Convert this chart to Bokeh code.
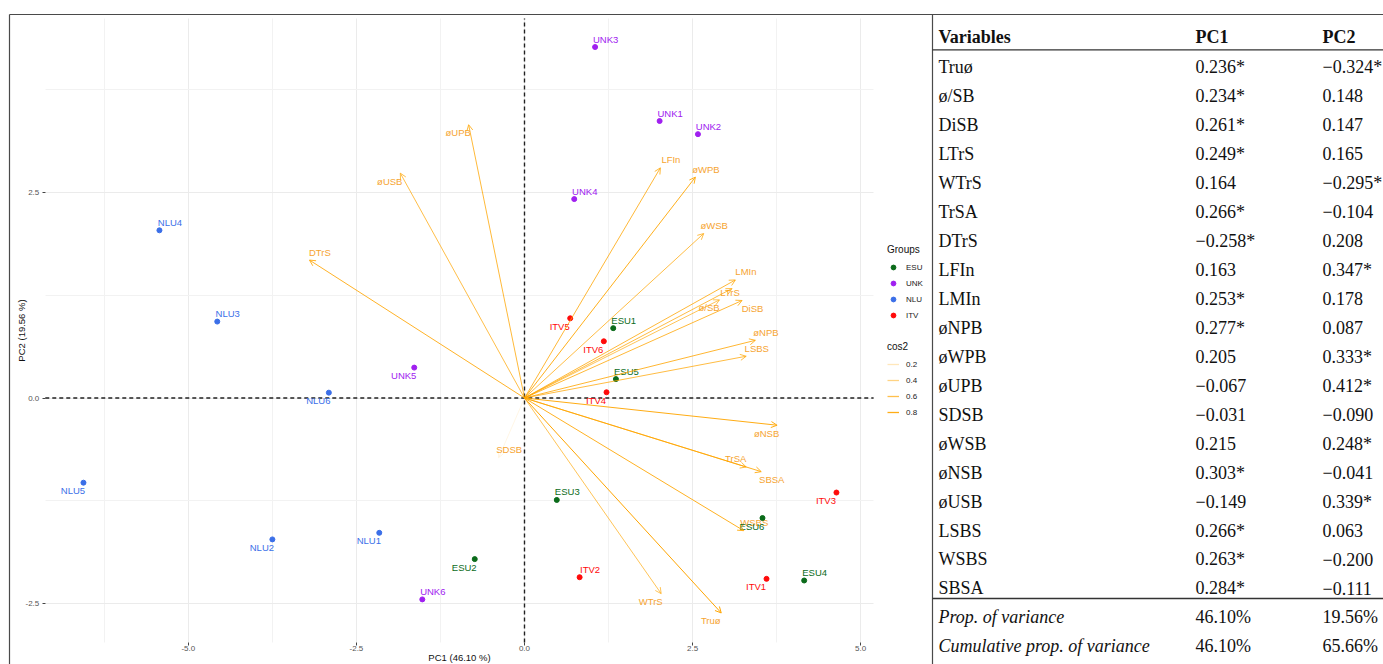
import numpy as np
from bokeh.plotting import figure
from bokeh.models import (ColumnDataSource, Range1d, Arrow, OpenHead, Legend, LegendItem,
                          FixedTicker, PrintfTickFormatter, LinearAxis, Grid)
from bokeh.embed import file_html
from bokeh.resources import INLINE
from bokeh.core.properties import value

# ---------------- data ----------------
ind_names = ["ESU1", "ESU2", "ESU3", "ESU4", "ESU5", "ESU6",
             "UNK1", "UNK2", "UNK3", "UNK4", "UNK5", "UNK6",
             "NLU1", "NLU2", "NLU3", "NLU4", "NLU5", "NLU6",
             "ITV1", "ITV2", "ITV3", "ITV4", "ITV5", "ITV6"]
ind_groups = ["ESU"] * 6 + ["UNK"] * 6 + ["NLU"] * 6 + ["ITV"] * 6
ind_pc1 = [1.32, -0.74, 0.48, 4.16, 1.36, 3.54,
           2.01, 2.58, 1.05, 0.74, -1.64, -1.52,
           -2.16, -3.75, -4.57, -5.43, -6.56, -2.91,
           3.60, 0.82, 4.64, 1.22, 0.68, 1.18]
ind_pc2 = [0.85, -1.96, -1.24, -2.22, 0.23, -1.46,
           3.37, 3.21, 4.27, 2.42, 0.37, -2.45,
           -1.64, -1.72, 0.93, 2.04, -1.03, 0.065,
           -2.20, -2.18, -1.15, 0.07, 0.97, 0.69]
# label placement: "ur" = above right, "dl" = below left
ind_label_pos = ["ur", "dl", "ur", "ur", "ur", "dl",
                 "ur", "ur", "ur", "ur", "dl", "ur",
                 "dl", "dl", "ur", "ur", "dl", "dl",
                 "dl", "ur", "dl", "dl", "dl", "dl"]

groups = ["ESU", "UNK", "NLU", "ITV"]
group_colors = {"ESU": "#0b6b1a", "UNK": "#a020f0", "NLU": "#3b6fe8", "ITV": "#ff0a0a"}

var_names = ["Truø", "ø/SB", "DiSB", "LTrS", "WTrS", "TrSA", "DTrS", "LFIn", "LMIn",
             "øNPB", "øWPB", "øUPB", "SDSB", "øWSB", "øNSB", "øUSB", "LSBS", "WSBS", "SBSA"]
var_pc1 = [0.236, 0.234, 0.261, 0.249, 0.164, 0.266, -0.258, 0.163, 0.253,
           0.277, 0.205, -0.067, -0.031, 0.215, 0.303, -0.149, 0.266, 0.263, 0.284]
var_pc2 = [-0.324, 0.148, 0.147, 0.165, -0.295, -0.104, 0.208, 0.347, 0.178,
           0.087, 0.333, 0.412, -0.090, 0.248, -0.041, 0.339, 0.063, -0.200, -0.111]
var_pc1_sig = [1, 1, 1, 1, 0, 1, 1, 0, 1, 1, 0, 0, 0, 0, 1, 0, 1, 1, 1]
var_pc2_sig = [1, 0, 0, 0, 1, 0, 0, 1, 0, 0, 1, 1, 0, 1, 0, 1, 0, 0, 0]
var_cos2 = [0.88, 0.56, 0.68, 0.64, 0.56, 0.66, 0.74, 0.68, 0.68,
            0.70, 0.78, 0.67, 0.04, 0.63, 0.81, 0.62, 0.64, 0.76, 0.75]
var_label_pos = ["dl", "dl", "dr", "c", "dl", "ul", "ur", "ur", "ur",
                 "ur", "ur", "dl", "ur", "ur", "dl", "dl", "ur", "ur", "dr"]
# biplot scaling of loadings (sdev x rescale factor) for PC1 / PC2
arrow_scale = (12.4, 8.07)

prop_var = ["46.10%", "19.56%"]
cum_var = ["46.10%", "65.66%"]
x_title = "PC1 (46.10 %)"
y_title = "PC2 (19.56 %)"
x_ticks = [-5.0, -2.5, 0.0, 2.5, 5.0]
x_minor = [-6.25, -3.75, -1.25, 1.25, 3.75]
y_ticks = [-2.5, 0.0, 2.5]
y_minor = [-1.25, 1.25, 3.75]
cos2_legend = [0.2, 0.4, 0.6, 0.8]

# ---------------- layout constants ----------------
W, H = 1383, 664
PX = (-7.128, 5.193)          # plotting panel limits (PC1)
PY = (-2.974, 4.617)          # plotting panel limits (PC2)
XR = (-7.794, 12.777)         # whole canvas in PC1 units
YR = (-3.242, 4.836)          # whole canvas in PC2 units
TXR = (-933, 450)             # table x units (px from table text origin)
TYR = (20.6207, -2.2759)      # table rows (row index, top to bottom)

VAR_COLOR = "#ffa500"
VAR_TEXT = "#f6a431"
SANS = "Liberation Sans"
SERIF = "Liberation Serif"
RULE = "#4a4a4a"

cmin, cmax = min(var_cos2), max(var_cos2)


def alpha_of(c):
    return 0.1 + 0.9 * (c - cmin) / (cmax - cmin)


OFFS = {"ur": (10.5, -8.0), "dl": (-10.5, 8.0), "ul": (-10.5, -8.5),
        "dr": (10.5, 7.5), "c": (-2.0, 3.5)}

p = figure(width=W, height=H, x_range=Range1d(*XR), y_range=Range1d(*YR),
           output_backend="svg", toolbar_location=None, min_border=0,
           outline_line_color=None, background_fill_color="white",
           x_axis_type=None, y_axis_type=None)
p.extra_x_ranges = {"tx": Range1d(*TXR)}
p.extra_y_ranges = {"ty": Range1d(*TYR)}

# ---------------- axes & grid ----------------
xt = FixedTicker(ticks=x_ticks, minor_ticks=x_minor)
yt = FixedTicker(ticks=y_ticks, minor_ticks=y_minor)
xax = LinearAxis(ticker=xt, fixed_location=PY[0], bounds=PX, axis_label=x_title)
yax = LinearAxis(ticker=yt, fixed_location=PX[0], bounds=PY, axis_label=y_title)
for ax in (xax, yax):
    ax.formatter = PrintfTickFormatter(format="%.1f")
    ax.axis_line_color = None
    ax.major_tick_line_color = "#444444"
    ax.major_tick_in = 0
    ax.major_tick_out = 3
    ax.minor_tick_line_color = None
    ax.major_label_text_font = SANS
    ax.major_label_text_font_size = "8px"
    ax.major_label_text_color = "#555555"
    ax.axis_label_text_font = SANS
    ax.axis_label_text_font_size = "9.5px"
    ax.axis_label_text_font_style = "normal"
    ax.axis_label_text_color = "#111111"
xax.major_label_standoff = 0
xax.axis_label_standoff = -3
yax.major_label_standoff = 2
yax.axis_label_standoff = -4
p.add_layout(xax, "below")
p.add_layout(yax, "left")

has_cb = "cross_bounds" in Grid.properties()
if has_cb:
    for dim, tk, bd, cb in ((0, xt, PX, PY), (1, yt, PY, PX)):
        g = Grid(dimension=dim, ticker=tk, bounds=bd, cross_bounds=cb,
                 grid_line_color="#ebebeb", grid_line_width=1,
                 minor_grid_line_color="#f2f2f2", minor_grid_line_width=1)
        p.add_layout(g)
else:
    gx = x_ticks + x_minor
    p.segment(x0=gx, y0=[PY[0]] * len(gx), x1=gx, y1=[PY[1]] * len(gx),
              line_color="#eeeeee", line_width=1, level="underlay")
    gy = y_ticks + y_minor
    p.segment(x0=[PX[0]] * len(gy), y0=gy, x1=[PX[1]] * len(gy), y1=gy,
              line_color="#eeeeee", line_width=1, level="underlay")

# dashed reference lines through the origin
p.segment(x0=[0, PX[0]], y0=[PY[0], 0], x1=[0, PX[1]], y1=[PY[1], 0],
          line_color="#222222", line_dash="4 3", line_width=1.4)

# ---------------- variable arrows ----------------
vx = [v * arrow_scale[0] for v in var_pc1]
vy = [v * arrow_scale[1] for v in var_pc2]
valpha = [alpha_of(c) for c in var_cos2]
for x1, y1, a in zip(vx, vy, valpha):
    p.add_layout(Arrow(x_start=0, y_start=0, x_end=x1, y_end=y1,
                       line_color=VAR_COLOR, line_alpha=a, line_width=1,
                       end=OpenHead(size=6, line_color=VAR_COLOR, line_alpha=a, line_width=1)))

var_src = ColumnDataSource(dict(
    x=vx, y=vy, text=var_names,
    dx=[OFFS[k][0] for k in var_label_pos], dy=[OFFS[k][1] for k in var_label_pos]))
p.text(x="x", y="y", text="text", source=var_src, x_offset="dx", y_offset="dy",
       text_color=VAR_TEXT, text_font=value(SANS),
       text_font_size="9.5px", text_align="center", text_baseline="middle")

# ---------------- individuals ----------------
group_renderers = {}
for gname in groups:
    idx = [i for i, g in enumerate(ind_groups) if g == gname]
    src = ColumnDataSource(dict(
        x=[ind_pc1[i] for i in idx], y=[ind_pc2[i] for i in idx],
        text=[ind_names[i] for i in idx],
        dx=[OFFS[ind_label_pos[i]][0] for i in idx],
        dy=[OFFS[ind_label_pos[i]][1] for i in idx]))
    col = group_colors[gname]
    group_renderers[gname] = p.scatter(x="x", y="y", source=src, size=5, color=col)
    p.text(x="x", y="y", text="text", source=src, x_offset="dx", y_offset="dy",
           text_color=col, text_font=value(SANS), text_font_size="9.5px",
           text_align="center", text_baseline="middle")

leg_common = dict(spacing=0, padding=0, margin=0, border_line_color=None,
                  background_fill_alpha=0, label_height=16, glyph_height=16,
                  glyph_width=12, label_standoff=7, title_standoff=4,
                  label_text_font=SANS, label_text_font_size="8px",
                  label_text_color="#222222",
                  title_text_font=SANS, title_text_font_size="10px",
                  title_text_font_style="normal", title_text_color="#111111")

leg1 = Legend(items=[LegendItem(label=g, renderers=[group_renderers[g]], index=0) for g in groups],
              title="Groups", location=(887, 341), **leg_common)
p.add_layout(leg1)

cos_items = []
for c in cos2_legend:
    # legend-only key (no visible data)
    rr = p.line(x=np.array([np.nan, np.nan]), y=np.array([np.nan, np.nan]),
                line_color=VAR_COLOR, line_alpha=alpha_of(c), line_width=1.3)
    cos_items.append(LegendItem(label=f"{c:.1f}", renderers=[rr]))
leg2 = Legend(items=cos_items, title="cos2", location=(887, 244), **leg_common)
p.add_layout(leg2)

# ---------------- table ----------------
T = dict(x_range_name="tx", y_range_name="ty")
COLS = (5, 262, 389)
n = len(var_names)


def fmt(v, sig):
    s = f"{v:.3f}".replace("-", "\u2212")
    return s + ("*" if sig else "")


hdr = ColumnDataSource(dict(x=list(COLS), y=[-1.03] * 3, text=["Variables", "PC1", "PC2"]))
p.text(x="x", y="y", text="text", source=hdr, text_font=value(SERIF), text_font_size="18px",
       text_font_style="bold", text_color="#111111", text_baseline="middle",
       text_align="left", **T)

body_x, body_y, body_t = [], [], []
for i in range(n):
    body_x += list(COLS)
    body_y += [i] * 3
    body_t += [var_names[i], fmt(var_pc1[i], var_pc1_sig[i]), fmt(var_pc2[i], var_pc2_sig[i])]
body_x += [COLS[1], COLS[2], COLS[1], COLS[2]]
body_y += [n, n, n + 1, n + 1]
body_t += [prop_var[0], prop_var[1], cum_var[0], cum_var[1]]
body = ColumnDataSource(dict(x=body_x, y=body_y, text=body_t))
p.text(x="x", y="y", text="text", source=body, text_font=value(SERIF), text_font_size="18px",
       text_color="#111111", text_baseline="middle", text_align="left", **T)

ital = ColumnDataSource(dict(x=[COLS[0], COLS[0]], y=[n, n + 1],
                             text=["Prop. of variance", "Cumulative prop. of variance"]))
p.text(x="x", y="y", text="text", source=ital, text_font=value(SERIF), text_font_size="18px",
       text_font_style="italic", text_color="#111111", text_baseline="middle",
       text_align="left", **T)

# rules: outer frame, column separator, header and footer rules
R_TOP_LINE = -1.7931
SEP_X = -1
LEFT_X = -924
p.segment(x0=[LEFT_X, LEFT_X, SEP_X], y0=[R_TOP_LINE, R_TOP_LINE, R_TOP_LINE],
          x1=[TXR[1], LEFT_X, SEP_X], y1=[R_TOP_LINE, TYR[0], TYR[0]],
          line_color=RULE, line_width=1.2, **T)
p.segment(x0=[SEP_X, SEP_X], y0=[-0.576, n - 0.655], x1=[TXR[1], TXR[1]],
          y1=[-0.576, n - 0.655], line_color="#333333", line_width=1.3, **T)

open("out.html", "w").write(file_html(p, INLINE))
